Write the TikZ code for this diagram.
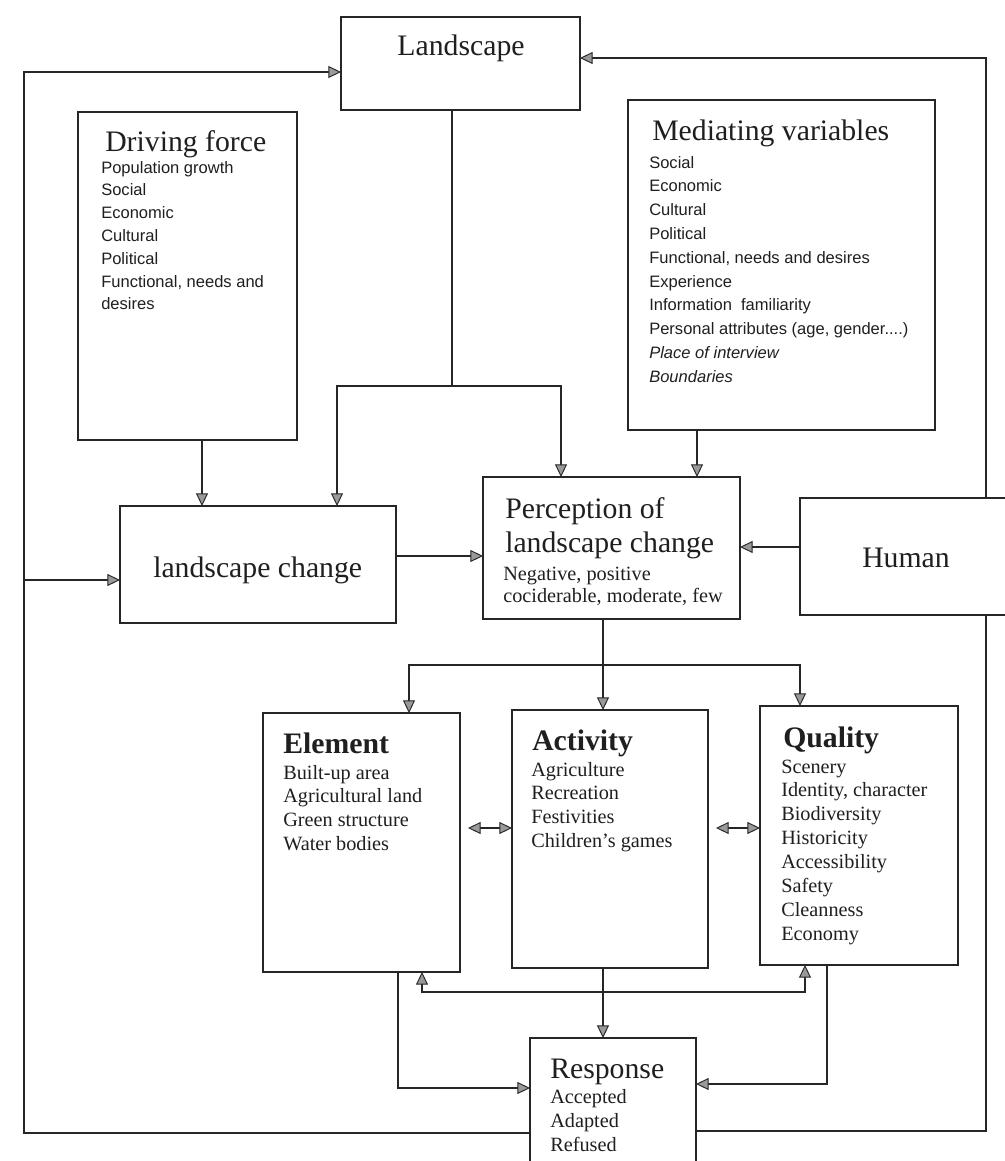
\documentclass[tikz,border=0pt]{standalone}
\usepackage{fontspec}
\setmainfont{Liberation Serif}
\newfontfamily\arialf{Liberation Sans}
\usetikzlibrary{arrows.meta,calc}
\begin{document}
\begin{tikzpicture}[x=0.75pt,y=-0.75pt,
  box/.style 2 args={draw=black!85, line width=0.9pt, inner sep=0pt, outer sep=0pt,
     minimum width={#1*0.75pt}, minimum height={#2*0.75pt}},
  link/.style={draw=black!85, line width=0.9pt},
  tip/.tip={Triangle[width=9pt,length=9.5pt,fill=black!40,line width=0.7pt]},
  arr/.style={link,-tip},
  darr/.style={link,tip-tip},
  ttl/.style={inner sep=0pt, anchor=base west, text=black!88, font=\fontsize{22.3}{26}\selectfont},
  btl/.style={ttl, font=\fontsize{22.3}{26}\selectfont\bfseries},
  sans/.style={inner sep=0pt, anchor=base west, text=black!88, font=\arialf\fontsize{12.4}{14}\selectfont},
  sansi/.style={sans, font=\arialf\fontsize{12.4}{14}\selectfont\itshape},
  ser/.style={inner sep=0pt, anchor=base west, text=black!88, font=\fontsize{15.2}{18}\selectfont}]
\useasboundingbox (0,0) rectangle (1005,1161);
\fill[white] (0,0) rectangle (1005,1161);

% boxes
\node[box={239}{93}]  (land)  at (460.5,63.5) {};
\node[box={219}{328}] (drive) at (187.5,276) {};
\node[box={307}{330}] (med)   at (781.5,265) {};
\node[box={276}{117}] (lc)    at (258,564.5) {};
\node[box={257}{142}] (perc)  at (611.5,548) {};
\node[box={220}{117}] (human) at (910,556.5) {};
\node[box={197}{259}] (elem)  at (361.5,842.5) {};
\node[box={196}{258}] (act)   at (610,839) {};
\node[box={198}{259}] (qual)  at (859,835.5) {};
\node[box={166}{140}] (resp)  at (613,1108) {};

% texts
\node[ttl, anchor=base] (tland) at (461,55) {Landscape};
\node[ttl] (tdrive) at (105,151) {Driving force};
\foreach \t [count=\i] in {Population growth, Social, Economic, Cultural, Political, {Functional, needs and}, desires}
  \node[sans] (d\i) at (101,{173+22.8*(\i-1)}) {\t};
\node[ttl] (tmed) at (652,140) {Mediating variables};
\foreach \t [count=\i] in {Social, Economic, Cultural, Political, {Functional, needs and desires}, Experience, Information\ \ familiarity}
  \node[sans] (m\i) at (649,{168+23.8*(\i-1)}) {\t};
\node[sans] (m8) at (649,{168+23.8*7}) {Personal attributes (age, gender....)};
\node[sansi] (m9) at (649,{168+23.8*8}) {Place of interview};
\node[sansi] (m10) at (649,{168+23.8*9}) {Boundaries};
\node[ttl] (tlc) at (153,577) {landscape change};
\node[ttl] (tp1) at (505,518) {Perception of};
\node[ttl] (tp2) at (505,552) {landscape change};
\node[ser] (tp3) at (503,580) {Negative, positive};
\node[ser] (tp4) at (503,602) {cociderable, moderate, few};
\node[ttl] (thum) at (862,567) {Human};
\node[btl] (telem) at (283,753) {Element};
\foreach \t [count=\i] in {Built-up area, Agricultural land, Green structure, Water bodies}
  \node[ser] (e\i) at (283,{779+23.7*(\i-1)}) {\t};
\node[btl] (tact) at (532,750) {Activity};
\foreach \t [count=\i] in {Agriculture, Recreation, Festivities, Children’s games}
  \node[ser] (a\i) at (531,{776+23.7*(\i-1)}) {\t};
\node[btl] (tqual) at (783,747) {Quality};
\foreach \t [count=\i] in {Scenery, {Identity, character}, Biodiversity, Historicity, Accessibility, Safety, Cleanness, Economy}
  \node[ser] (q\i) at (781,{773+23.9*(\i-1)}) {\t};
\node[ttl] (tresp) at (550,1078) {Response};
\foreach \t [count=\i] in {Accepted, Adapted, Refused}
  \node[ser] (r\i) at (550,{1103+24*(\i-1)}) {\t};

% connectors
\coordinate (ll) at (24,1133);
\coordinate (lt) at (24,72);
\draw[arr] (resp.west |- ll) -- (ll) -- (lt) -- (land.west |- lt);
\draw[arr] (24,580) -- (lc.west |- 0,580);

\coordinate (rt) at (986,58);
\coordinate (rb) at (986,1131);
\draw[arr] (human.north -| rt) -- (rt) -- (land.east |- rt);
\draw[link] (human.south -| rb) -- (rb) -- (resp.east |- rb);

\coordinate (sp) at (452,386);
\draw[link] (land.south -| sp) -- (sp);
\draw[arr] (sp) -- (337,386) -- (lc.north -| 337,0);
\draw[arr] (sp) -- (561,386) -- (perc.north -| 561,0);

\draw[arr] (drive.south -| 202,0) -- (lc.north -| 202,0);
\draw[arr] (med.south -| 697,0) -- (perc.north -| 697,0);
\draw[arr] (lc.east |- 0,556) -- (perc.west |- 0,556);
\draw[arr] (human.west |- 0,547) -- (perc.east |- 0,547);

\coordinate (ps) at (603,665);
\draw[link] (perc.south -| ps) -- (ps);
\draw[arr] (ps) -- (409,665) -- (elem.north -| 409,0);
\draw[arr] (ps) -- (act.north -| ps);
\draw[arr] (ps) -- (800,665) -- (qual.north -| 800,0);

\draw[darr, shorten <=6pt] (elem.east |- 0,828) -- (act.west |- 0,828);
\draw[darr, shorten <=6pt] (act.east |- 0,828) -- (qual.west |- 0,828);

\draw[arr] (act.south -| 603,0) -- (resp.north -| 603,0);
\draw[arr] (elem.south -| 398,0) -- (398,1088) -- (resp.west |- 0,1088);
\draw[arr] (qual.south -| 827,0) -- (827,1084) -- (resp.east |- 0,1084);
\draw[darr] (elem.south -| 422,0) -- (422,992) -- (805,992) -- (qual.south -| 805,0);
\end{tikzpicture}
\end{document}
